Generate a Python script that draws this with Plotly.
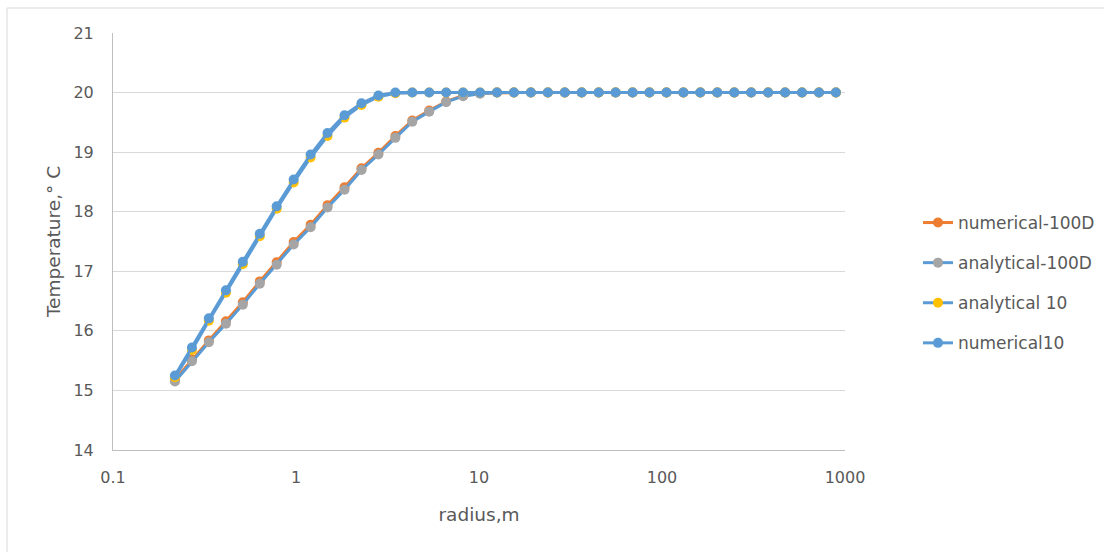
import plotly.graph_objects as go

radius = [0.218, 0.270, 0.334, 0.414, 0.512, 0.634, 0.784, 0.971, 1.202, 1.487,
          1.841, 2.279, 2.820, 3.491, 4.320, 5.346, 6.616, 8.189, 10.13, 12.54,
          15.52, 19.21, 23.78, 29.43, 36.42, 45.08, 55.79, 69.05, 85.46, 105.8,
          130.9, 162.0, 200.5, 248.2, 307.2, 380.2, 470.6, 582.4, 720.8, 892.1]

numerical_100D = [15.18, 15.52, 15.84, 16.16, 16.48, 16.83, 17.15, 17.49, 17.78, 18.11,
                  18.41, 18.73, 18.99, 19.27, 19.53, 19.70, 19.85, 19.95, 19.99, 20.0,
                  20.0, 20.0, 20.0, 20.0, 20.0, 20.0, 20.0, 20.0, 20.0, 20.0,
                  20.0, 20.0, 20.0, 20.0, 20.0, 20.0, 20.0, 20.0, 20.0, 20.0]

analytical_100D = [15.15, 15.49, 15.81, 16.12, 16.44, 16.79, 17.11, 17.45, 17.74, 18.07,
                   18.37, 18.70, 18.96, 19.24, 19.51, 19.68, 19.84, 19.94, 19.98, 20.0,
                   20.0, 20.0, 20.0, 20.0, 20.0, 20.0, 20.0, 20.0, 20.0, 20.0,
                   20.0, 20.0, 20.0, 20.0, 20.0, 20.0, 20.0, 20.0, 20.0, 20.0]

analytical_10 = [15.22, 15.68, 16.17, 16.64, 17.12, 17.59, 18.05, 18.49, 18.91, 19.27,
                 19.58, 19.79, 19.93, 19.99, 20.0, 20.0, 20.0, 20.0, 20.0, 20.0,
                 20.0, 20.0, 20.0, 20.0, 20.0, 20.0, 20.0, 20.0, 20.0, 20.0,
                 20.0, 20.0, 20.0, 20.0, 20.0, 20.0, 20.0, 20.0, 20.0, 20.0]

numerical_10 = [15.25, 15.72, 16.21, 16.68, 17.16, 17.63, 18.09, 18.54, 18.96, 19.32,
                19.62, 19.82, 19.95, 20.0, 20.0, 20.0, 20.0, 20.0, 20.0, 20.0,
                20.0, 20.0, 20.0, 20.0, 20.0, 20.0, 20.0, 20.0, 20.0, 20.0,
                20.0, 20.0, 20.0, 20.0, 20.0, 20.0, 20.0, 20.0, 20.0, 20.0]

x_tickvals = [0.1, 1, 10, 100, 1000]
x_ticktext = ["0.1", "1", "10", "100", "1000"]
y_tickvals = [14, 15, 16, 17, 18, 19, 20, 21]

series = [
    ("numerical-100D", numerical_100D, "#ED7D31", "#ED7D31"),
    ("analytical-100D", analytical_100D, "#5B9BD5", "#A5A5A5"),
    ("analytical 10", analytical_10, "#5B9BD5", "#FFC000"),
    ("numerical10", numerical_10, "#5B9BD5", "#5B9BD5"),
]

fig = go.Figure()
for i, (name, vals, lc, mc) in enumerate(series):
    fig.add_trace(go.Scatter(
        x=radius, y=vals, name=name, mode="lines+markers",
        line=dict(color=lc, width=3),
        marker=dict(color=mc, size=10, symbol="circle"),
        legendgroup=f"g{i}",
    ))

font_family = "DejaVu Sans, sans-serif"
W, H = 1104, 552
L, R, T, B = 113, 259, 33, 102
pw, ph = W - L - R, H - T - B

def px(x):
    return (x - L) / pw

def py(y):
    return (H - B - y) / ph

fig.update_layout(
    width=W, height=H,
    margin=dict(l=L, r=R, t=T, b=B, autoexpand=False),
    paper_bgcolor="white", plot_bgcolor="white",
    font=dict(family=font_family, color="#595959", size=16),
    showlegend=True,
    legend=dict(
        x=px(918), y=py(205), xanchor="left", yanchor="top",
        traceorder="grouped", tracegroupgap=15,
        font=dict(size=17, color="#595959", family=font_family),
        bgcolor="rgba(0,0,0,0)",
    ),
    xaxis=dict(
        type="log", range=[-1, 3],
        tickvals=x_tickvals, ticktext=x_ticktext,
        showgrid=False, zeroline=False,
        showline=True, linecolor="#BFBFBF", linewidth=1,
        ticks="", ticklabelstandoff=13,
        tickfont=dict(size=16, color="#595959"),
        title=dict(text="radius,m", font=dict(size=18.5, color="#595959"), standoff=21),
    ),
    yaxis=dict(
        range=[14, 21], tickvals=y_tickvals,
        showgrid=True, gridcolor="#D9D9D9", gridwidth=1,
        zeroline=False, showline=True, linecolor="#BFBFBF", linewidth=1,
        ticks="", ticklabelstandoff=15,
        tickfont=dict(size=16, color="#595959"),
        title=dict(text="Temperature,° C", font=dict(size=18.5, color="#595959"), standoff=7),
    ),
    shapes=[dict(
        type="rect", xref="paper", yref="paper",
        x0=px(7), x1=px(1110), y0=py(560), y1=py(8),
        line=dict(color="#D9D9D9", width=1), fillcolor="rgba(0,0,0,0)", layer="below",
    )],
)

fig.write_html("out.html")
